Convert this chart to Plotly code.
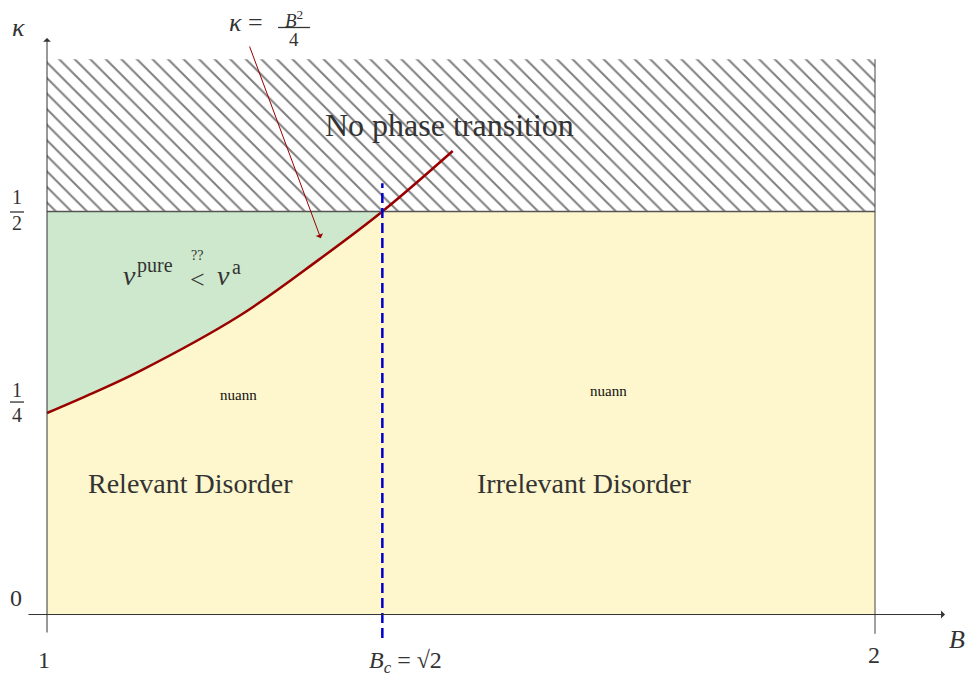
import plotly.graph_objects as go

# curve kappa = B^2/4
curve_B = [1.0, 1.056, 1.112, 1.233, 1.328, 1.405, 1.490]
curve_kappa = [0.25, 0.275, 0.302, 0.371, 0.440, 0.500, 0.575]

B_min, B_max = 1.0, 2.0
B_c = 1.405
kappa_half = 0.5
kappa_top = 0.689

region_labels = ['Relevant Disorder', 'Irrelevant Disorder']
region_B = [1.173, 1.649]
region_kappa = [0.162, 0.162]
nuann_B = [1.231, 1.678]
nuann_kappa = [0.272, 0.277]

YELLOW = '#fef6cc'
GREEN = '#cde8cc'
DARKRED = '#990000'
TXT = '#333333'
SERIF = 'Liberation Serif'

fig = go.Figure()

# yellow background for kappa < 1/2
fig.add_shape(type='rect', x0=B_min, x1=B_max, y0=0, y1=kappa_half,
              fillcolor=YELLOW, line=dict(width=0), layer='below')

# green region between kappa = 1/2 and the curve
low_B = [b for b, k in zip(curve_B, curve_kappa) if k <= kappa_half]
low_k = [k for b, k in zip(curve_B, curve_kappa) if k <= kappa_half]
fig.add_trace(go.Scatter(x=[low_B[0], low_B[-1]], y=[kappa_half, kappa_half], mode='lines',
                         line=dict(width=0), hoverinfo='skip'))
fig.add_trace(go.Scatter(x=low_B, y=low_k, mode='lines', fill='tonexty', fillcolor=GREEN,
                         line=dict(width=0, shape='spline'), hoverinfo='skip'))

# hatched "no phase transition" region
fig.add_trace(go.Scatter(x=[B_min, B_max, B_max, B_min, B_min],
                         y=[kappa_half, kappa_half, kappa_top, kappa_top, kappa_half],
                         mode='lines', fill='toself',
                         fillpattern=dict(shape='\\', fgcolor='#000000', bgcolor='white',
                                          size=11, solidity=0.18),
                         line=dict(width=0), hoverinfo='skip'))

# frame lines
fig.add_shape(type='line', x0=B_min, x1=B_max, y0=kappa_half, y1=kappa_half,
              line=dict(color='#555555', width=1.3))
fig.add_shape(type='line', x0=B_max, x1=B_max, y0=-0.024, y1=kappa_top,
              line=dict(color='#444444', width=1))
fig.add_shape(type='line', x0=B_c, x1=B_c, y0=-0.029, y1=0.535,
              line=dict(color='#0000cc', width=2.5, dash='10px,5px'))

# the curve
fig.add_trace(go.Scatter(x=curve_B, y=curve_kappa, mode='lines',
                         line=dict(color=DARKRED, width=2.5, shape='spline'), hoverinfo='skip'))

# axes with arrows
fig.add_annotation(x=2.0845, y=0, ax=0.9758, ay=0, xref='x', yref='y', axref='x', ayref='y',
                   text='', showarrow=True, arrowhead=1, arrowsize=1.3, arrowwidth=1, arrowcolor=TXT)
fig.add_annotation(x=B_min, y=0.7153, ax=B_min, ay=-0.0242, xref='x', yref='y', axref='x', ayref='y',
                   text='', showarrow=True, arrowhead=1, arrowsize=1.3, arrowwidth=1, arrowcolor=TXT)

# arrow to the curve
fig.add_annotation(x=1.3306, y=0.4668, ax=1.244, ay=0.7066, xref='x', yref='y', axref='x', ayref='y',
                   text='', showarrow=True, arrowhead=1, arrowsize=1.3, arrowwidth=1, arrowcolor=DARKRED)


def label(x, y, text, size=25, color=TXT, family=SERIF):
    fig.add_annotation(x=x, y=y, xref='x', yref='y', text=text, showarrow=False, borderpad=0,
                       font=dict(family=family, size=size, color=color))


def bar(x0, x1, y):
    fig.add_shape(type='line', x0=x0, x1=x1, y0=y, y1=y, line=dict(color=TXT, width=1.3))


# axis labels and ticks
label(0.9650, 0.7277, '<i>κ</i>', 26)
label(2.0990, -0.0316, '<i>B</i>', 26)
label(0.9626, 0.0205, '0', 24)
label(0.9964, -0.0565, '1', 24)
label(1.9988, -0.0502, '2', 24)
label(1.4324, -0.0589, '<i>B</i><sub><i>c</i></sub> = √2', 24)
label(0.9638, 0.5185, '1', 20)
bar(0.9553, 0.9722, 0.4994)
label(0.9638, 0.4855, '2', 20)
label(0.9638, 0.2785, '1', 20)
bar(0.9553, 0.9722, 0.2636)
label(0.9638, 0.2475, '4', 20)

# kappa = B^2/4
label(1.2400, 0.7351, '<i>κ</i> =', 26)
label(1.2983, 0.7389, '<i>B</i><sup>2</sup>', 19)
bar(1.2790, 1.3176, 0.7283)
label(1.2983, 0.7140, '4', 19)

# region texts
label(1.4867, 0.6073, 'No phase transition', 32)
for t, b, k in zip(region_labels, region_B, region_kappa):
    label(b, k, t, 28)
for b, k in zip(nuann_B, nuann_kappa):
    label(b, k, 'nuann', 15, '#111111')

# nu^pure ?? < nu^a
label(1.1002, 0.4212, '<i>ν</i>', 28)
label(1.1305, 0.4330, 'pure', 20)
label(1.1812, 0.4460, '??', 14)
label(1.1812, 0.4160, '<', 26)
label(1.2126, 0.4212, '<i>ν</i>', 28)
label(1.2283, 0.4310, 'a', 20)

# the page adds an 8px margin, so the figure starts 8px in and the ranges start there
fig.update_layout(width=968, height=676, autosize=False, showlegend=False,
                  margin=dict(l=0, r=0, t=0, b=0),
                  paper_bgcolor='white', plot_bgcolor='white',
                  xaxis=dict(range=[0.95290, 2.12198], visible=False, fixedrange=True),
                  yaxis=dict(range=[-0.0862, 0.75248], visible=False, fixedrange=True))

fig.write_html("out.html")
